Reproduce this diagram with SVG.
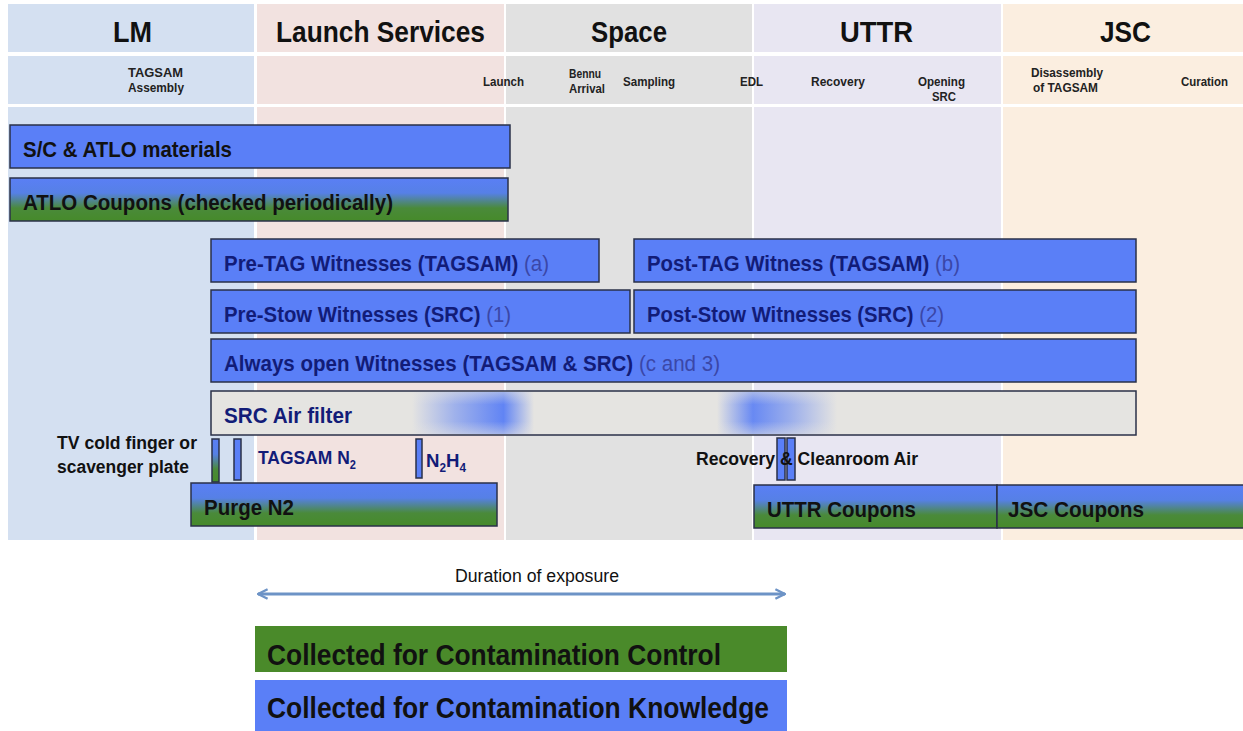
<svg xmlns="http://www.w3.org/2000/svg" width="1243" height="731" viewBox="0 0 1243 731">
<defs>
<linearGradient id="bg" x1="0" y1="0" x2="0" y2="1">
<stop offset="0" stop-color="#5a7ff5"/>
<stop offset="0.35" stop-color="#5680e6"/>
<stop offset="0.7" stop-color="#4a8a3a"/>
<stop offset="1" stop-color="#468a2a"/>
</linearGradient>
<linearGradient id="blur1" x1="0" y1="0" x2="1" y2="0">
<stop offset="0" stop-color="#5a7ff5" stop-opacity="0"/>
<stop offset="0.35" stop-color="#5a7ff5" stop-opacity="0.5"/>
<stop offset="0.75" stop-color="#5a7ff5" stop-opacity="0.95"/>
<stop offset="1" stop-color="#5a7ff5" stop-opacity="0"/>
</linearGradient>
<linearGradient id="blur2" x1="0" y1="0" x2="1" y2="0">
<stop offset="0" stop-color="#5a7ff5" stop-opacity="0"/>
<stop offset="0.3" stop-color="#5a7ff5" stop-opacity="0.9"/>
<stop offset="0.6" stop-color="#5a7ff5" stop-opacity="0.55"/>
<stop offset="1" stop-color="#5a7ff5" stop-opacity="0"/>
</linearGradient>
<linearGradient id="vfade" x1="0" y1="0" x2="0" y2="1">
<stop offset="0" stop-color="#e5e4e1" stop-opacity="0.5"/>
<stop offset="0.3" stop-color="#e5e4e1" stop-opacity="0"/>
<stop offset="0.7" stop-color="#e5e4e1" stop-opacity="0"/>
<stop offset="1" stop-color="#e5e4e1" stop-opacity="0.5"/>
</linearGradient>
<marker id="ah" viewBox="0 0 10 10" refX="9" refY="5" markerWidth="4" markerHeight="4" orient="auto-start-reverse">
<path d="M1,1 L9,5 L1,9" fill="none" stroke="#6d93c6" stroke-width="2"/>
</marker>
<style>
.bar{fill:#5a7ff7;stroke:#2a3048;stroke-width:1.5}
.gbar{fill:url(#bg);stroke:#2a3048;stroke-width:1.5}
text{font-family:"Liberation Sans",Arial,sans-serif;font-weight:bold}
.hd{font-size:30px;fill:#111}
.sub{font-size:13px;fill:#222}
.bt{font-size:22px;fill:#111}
.wt{font-size:22px;fill:#121c78}
.wn{font-weight:normal;fill:#3a47a8}
.lb{font-size:18px;fill:#111}
.lg{font-size:29px;fill:#111}
.sb{font-size:12px}
</style>
</defs>
<rect width="1243" height="731" fill="#fff"/>
<g id="columns">
<rect x="8" y="4" width="246" height="48" fill="#d4e0f1"/>
<rect x="257" y="4" width="247" height="48" fill="#f2e2e0"/>
<rect x="506" y="4" width="246" height="48" fill="#e1e1e1"/>
<rect x="754" y="4" width="247" height="48" fill="#e8e6f2"/>
<rect x="1003" y="4" width="240" height="48" fill="#fbeee0"/>
<rect x="8" y="56" width="246" height="48" fill="#d4e0f1"/>
<rect x="257" y="56" width="247" height="48" fill="#f2e2e0"/>
<rect x="506" y="56" width="246" height="48" fill="#e1e1e1"/>
<rect x="754" y="56" width="247" height="48" fill="#e8e6f2"/>
<rect x="1003" y="56" width="240" height="48" fill="#fbeee0"/>
<rect x="8" y="107" width="246" height="433" fill="#d4e0f1"/>
<rect x="257" y="107" width="247" height="433" fill="#f2e2e0"/>
<rect x="506" y="107" width="246" height="433" fill="#e1e1e1"/>
<rect x="754" y="107" width="247" height="433" fill="#e8e6f2"/>
<rect x="1003" y="107" width="240" height="433" fill="#fbeee0"/>
</g>
<g id="headers">
<text class="hd" x="113" y="42" textLength="39" lengthAdjust="spacingAndGlyphs">LM</text>
<text class="hd" x="276" y="42" textLength="209" lengthAdjust="spacingAndGlyphs">Launch Services</text>
<text class="hd" x="591" y="42" textLength="76" lengthAdjust="spacingAndGlyphs">Space</text>
<text class="hd" x="840" y="42" textLength="73" lengthAdjust="spacingAndGlyphs">UTTR</text>
<text class="hd" x="1100" y="42" textLength="51" lengthAdjust="spacingAndGlyphs">JSC</text>
</g>
<g id="phases">
<text class="sub" x="128" y="77" textLength="55" lengthAdjust="spacingAndGlyphs">TAGSAM</text>
<text class="sub" x="128" y="92" textLength="56" lengthAdjust="spacingAndGlyphs">Assembly</text>
<text class="sub" x="483" y="86" textLength="41" lengthAdjust="spacingAndGlyphs">Launch</text>
<text class="sub" x="569" y="78" textLength="32" lengthAdjust="spacingAndGlyphs">Bennu</text>
<text class="sub" x="569" y="93" textLength="36" lengthAdjust="spacingAndGlyphs">Arrival</text>
<text class="sub" x="623" y="86" textLength="52" lengthAdjust="spacingAndGlyphs">Sampling</text>
<text class="sub" x="740" y="86" textLength="23" lengthAdjust="spacingAndGlyphs">EDL</text>
<text class="sub" x="811" y="86" textLength="54" lengthAdjust="spacingAndGlyphs">Recovery</text>
<text class="sub" x="918" y="86" textLength="47" lengthAdjust="spacingAndGlyphs">Opening</text>
<text class="sub" x="932" y="101" textLength="24" lengthAdjust="spacingAndGlyphs">SRC</text>
<text class="sub" x="1031" y="77" textLength="72" lengthAdjust="spacingAndGlyphs">Disassembly</text>
<text class="sub" x="1033" y="92" textLength="65" lengthAdjust="spacingAndGlyphs">of TAGSAM</text>
<text class="sub" x="1181" y="86" textLength="47" lengthAdjust="spacingAndGlyphs">Curation</text>
</g>
<g id="sc-atlo"><rect class="bar" x="10" y="125" width="500" height="43"/><text class="bt" x="23" y="157" textLength="209" lengthAdjust="spacingAndGlyphs">S/C &amp; ATLO materials</text></g>
<g id="atlo-coupons"><rect class="gbar" x="10" y="178" width="498" height="43"/><text class="bt" x="23" y="210" textLength="370" lengthAdjust="spacingAndGlyphs">ATLO Coupons (checked periodically)</text></g>
<g id="pre-tag"><rect class="bar" x="211" y="239" width="388" height="43"/><text class="wt" x="224" y="271" textLength="325" lengthAdjust="spacingAndGlyphs">Pre-TAG Witnesses (TAGSAM) <tspan class="wn">(a)</tspan></text></g>
<g id="post-tag"><rect class="bar" x="634" y="239" width="502" height="43"/><text class="wt" x="647" y="271" textLength="313" lengthAdjust="spacingAndGlyphs">Post-TAG Witness (TAGSAM) <tspan class="wn">(b)</tspan></text></g>
<g id="pre-stow"><rect class="bar" x="211" y="290" width="419" height="43"/><text class="wt" x="224" y="322" textLength="287" lengthAdjust="spacingAndGlyphs">Pre-Stow Witnesses (SRC) <tspan class="wn">(1)</tspan></text></g>
<g id="post-stow"><rect class="bar" x="634" y="290" width="502" height="43"/><text class="wt" x="647" y="322" textLength="297" lengthAdjust="spacingAndGlyphs">Post-Stow Witnesses (SRC) <tspan class="wn">(2)</tspan></text></g>
<g id="always-open"><rect class="bar" x="211" y="339" width="925" height="43"/><text class="wt" x="224" y="371" textLength="496" lengthAdjust="spacingAndGlyphs">Always open Witnesses (TAGSAM &amp; SRC) <tspan class="wn">(c and 3)</tspan></text></g>
<g id="air-filter">
<rect x="211" y="391" width="925" height="44" fill="#e5e4e1" stroke="#2a3048" stroke-width="1.5"/>
<rect x="412" y="392" width="122" height="42" fill="url(#blur1)"/>
<rect x="717" y="392" width="120" height="42" fill="url(#blur2)"/>
<rect x="412" y="392" width="425" height="42" fill="url(#vfade)"/>
<text class="wt" x="224" y="423" textLength="128" lengthAdjust="spacingAndGlyphs">SRC Air filter</text>
</g>
<g id="tv-cold-finger">
<rect class="gbar" x="212" y="439" width="7" height="43"/>
<text class="lb" x="57" y="449" textLength="140" lengthAdjust="spacingAndGlyphs">TV cold finger or</text>
<text class="lb" x="57" y="473" textLength="132" lengthAdjust="spacingAndGlyphs">scavenger plate</text>
</g>
<g id="tagsam-n2"><rect class="bar" x="234" y="439" width="7" height="41"/><text class="wt" x="258" y="464" style="font-size:19px" textLength="98" lengthAdjust="spacingAndGlyphs">TAGSAM N<tspan class="sb" dy="5">2</tspan></text></g>
<g id="n2h4"><rect class="bar" x="416" y="439" width="6" height="39"/><text class="wt" x="426" y="467" style="font-size:19px" textLength="40" lengthAdjust="spacingAndGlyphs">N<tspan class="sb" dy="5">2</tspan><tspan dy="-5">H</tspan><tspan class="sb" dy="5">4</tspan></text></g>
<g id="purge-n2"><rect class="gbar" x="191" y="483" width="306" height="43"/><text class="bt" x="204" y="515" textLength="90" lengthAdjust="spacingAndGlyphs">Purge N2</text></g>
<g id="recovery-air">
<rect class="bar" x="777" y="438" width="8" height="42"/>
<rect class="bar" x="787" y="438" width="8" height="42"/>
<text class="lb" x="696" y="465" textLength="222" lengthAdjust="spacingAndGlyphs">Recovery &amp; Cleanroom Air</text>
</g>
<g id="uttr-coupons"><rect class="gbar" x="754" y="485" width="243" height="43"/><text class="bt" x="767" y="517" textLength="149" lengthAdjust="spacingAndGlyphs">UTTR Coupons</text></g>
<g id="jsc-coupons"><rect class="gbar" x="997" y="485" width="250" height="43"/><text class="bt" x="1008" y="517" textLength="136" lengthAdjust="spacingAndGlyphs">JSC Coupons</text></g>
<g id="connectors">
<line x1="258" y1="594" x2="785" y2="594" stroke="#6d93c6" stroke-width="3" marker-start="url(#ah)" marker-end="url(#ah)"/>
</g>
<g id="duration"><text x="455" y="582" style="font-weight:normal;font-size:18px;fill:#111" textLength="164" lengthAdjust="spacingAndGlyphs">Duration of exposure</text></g>
<g id="legend-control"><rect x="255" y="626" width="532" height="46" fill="#4a8a2a"/><text class="lg" x="267" y="665" textLength="454" lengthAdjust="spacingAndGlyphs">Collected for Contamination Control</text></g>
<g id="legend-knowledge"><rect x="255" y="680" width="532" height="51" fill="#5a7ff7"/><text class="lg" x="267" y="718" textLength="502" lengthAdjust="spacingAndGlyphs">Collected for Contamination Knowledge</text></g>
</svg>
